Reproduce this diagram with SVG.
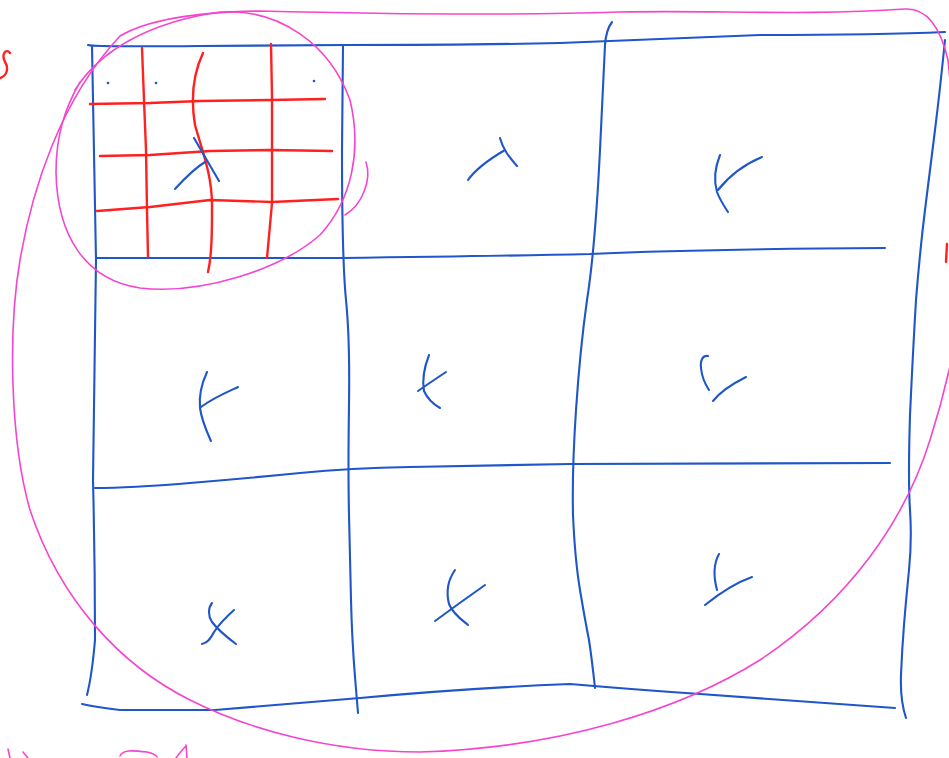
<svg xmlns="http://www.w3.org/2000/svg" width="949" height="758" viewBox="0 0 949 758">
<style>
.b{fill:none;stroke:#1f56c9;stroke-width:2.1;stroke-linecap:round;stroke-linejoin:round}
.r{fill:none;stroke:#ff2020;stroke-width:2.4;stroke-linecap:round;stroke-linejoin:round}
.p{fill:none;stroke:#f545cf;stroke-width:1.6;stroke-linecap:round;stroke-linejoin:round}
</style>
<rect width="949" height="758" fill="#ffffff"/>
<g id="outer-grid">
<path class="b" d="M 88 45 Q 92 47 200 46 L 345 45 Q 470 45 560 43 Q 700 37 760 35 Q 880 35 945 32"/>
<path class="b" d="M 92 46 L 96 260 L 93 480 Q 95 560 95 640 Q 92 675 87 695"/>
<path class="b" d="M 82 704 Q 95 707 120 710 L 215 710 Q 300 703 360 698 Q 470 688 570 684 Q 640 690 700 694 L 895 708"/>
<path class="b" d="M 945 40 Q 940 90 935 130 Q 930 170 925 210 Q 920 250 916 300 Q 913 350 910 415 Q 908 480 910 510 Q 912 540 909 570 Q 906 600 904 625 Q 902 650 901 675 Q 900 700 906 718"/>
<path class="b" d="M 343 45 L 342 150 Q 342 260 346 300 Q 350 340 349 405 Q 348 470 349 515 Q 350 560 351 600 Q 352 640 355 677 L 358 713"/>
<path class="b" d="M 612 22 Q 606 30 605 45 L 600 150 Q 595 250 587 300 Q 580 350 576 410 Q 572 470 573 515 Q 575 560 580 590 Q 585 620 589 640 Q 592 660 595 688"/>
<path class="b" d="M 97 258 L 340 258 Q 500 256 590 254 Q 700 249 885 248"/>
<path class="b" d="M 95 488 Q 130 488 190 483 Q 250 478 300 473 Q 350 468 410 467 L 570 464 L 890 463"/>
</g>
<g id="cell-1-subgrid">
<polyline class="r" points="90,104 150,103 200,101 270,100 325,99"/>
<polyline class="r" points="100,156 150,155 210,151 270,150 332,151"/>
<polyline class="r" points="97,211 150,207 210,200 272,202 338,199"/>
<polyline class="r" points="142,48 144,100 146,150 147,210 148,257"/>
<path class="r" d="M 203 53 C 195 70, 190 95, 195 125 C 202 150, 212 175, 212 205 C 212 230, 212 255, 208 272"/>
<polyline class="r" points="271,44 272,97 272,150 272,203 267,258"/>
<circle cx="108" cy="83" r="1.3" fill="#1f56c9"/>
<circle cx="156" cy="83" r="1.3" fill="#1f56c9"/>
<circle cx="314" cy="81" r="1.3" fill="#1f56c9"/>
<path class="b" d="M 194 138 L 219 181 M 175 189 C 185 178, 195 168, 205 162"/>
</g>
<g id="cell-marks">
<path class="b" d="M 468 180 C 475 170, 488 160, 505 150 M 500 138 C 503 150, 510 158, 517 166"/>
<path class="b" d="M 720 155 C 714 170, 714 182, 717 192 C 720 200, 724 206, 728 212 M 718 190 C 730 175, 745 164, 762 157"/>
<path class="b" d="M 207 372 C 201 385, 199 398, 200 408 C 202 422, 207 432, 211 441 M 201 407 C 213 398, 225 393, 238 387"/>
<path class="b" d="M 429 355 C 424 368, 422 380, 424 391 C 428 400, 433 404, 440 408 M 418 391 C 428 384, 437 378, 446 372"/>
<path class="b" d="M 708 356 C 703 355, 700 360, 701 368 C 702 378, 705 384, 709 390 M 713 401 C 720 392, 732 384, 746 377"/>
<path class="b" d="M 212 603 C 208 608, 208 616, 212 622 C 218 630, 228 638, 236 644 M 234 610 C 225 618, 218 626, 214 632 C 211 638, 208 643, 202 644"/>
<path class="b" d="M 455 570 C 448 580, 446 592, 449 604 C 453 614, 462 620, 468 625 M 435 621 C 450 610, 468 597, 485 585"/>
<path class="b" d="M 719 554 C 714 563, 713 575, 717 590 M 705 605 C 720 593, 735 583, 752 577"/>
</g>
<g id="pink-loops">
<path class="p" d="M 120 36 C 150 18, 200 12, 260 11 C 380 14, 500 16, 620 12 C 720 10, 800 16, 905 9 C 925 8, 940 25, 948 60 L 962 200 L 962 300 C 955 350, 946 390, 930 440 C 905 520, 850 600, 760 660 C 680 710, 560 748, 420 752 C 330 752, 250 730, 190 700 C 120 665, 60 600, 30 510 C 10 440, 8 330, 20 260 C 32 190, 60 100, 120 36"/>
<path class="p" d="M 75 90 C 100 50, 150 22, 220 12 C 280 8, 330 45, 350 100 C 362 150, 352 200, 320 235 C 280 270, 200 295, 140 288 C 85 280, 57 235, 56 172 C 56 135, 65 108, 80 82"/>
<path class="p" d="M 366 162 C 372 180, 362 205, 345 215"/>
</g>
<g id="stray-marks">
<path class="r" d="M 10 53 C 6 48, 1 54, 5 62 C 9 68, 7 76, 0 78"/>
<path class="r" d="M 947 244 L 946 262"/>
<path class="p" d="M 8 749 L 10 758 M 23 752 L 28 758 M 120 756 C 123 750, 130 750, 147 752 C 152 753, 156 755, 157 757 M 186 745 L 187 758 M 186 746 C 182 750, 179 754, 176 758"/>
</g>
</svg>
